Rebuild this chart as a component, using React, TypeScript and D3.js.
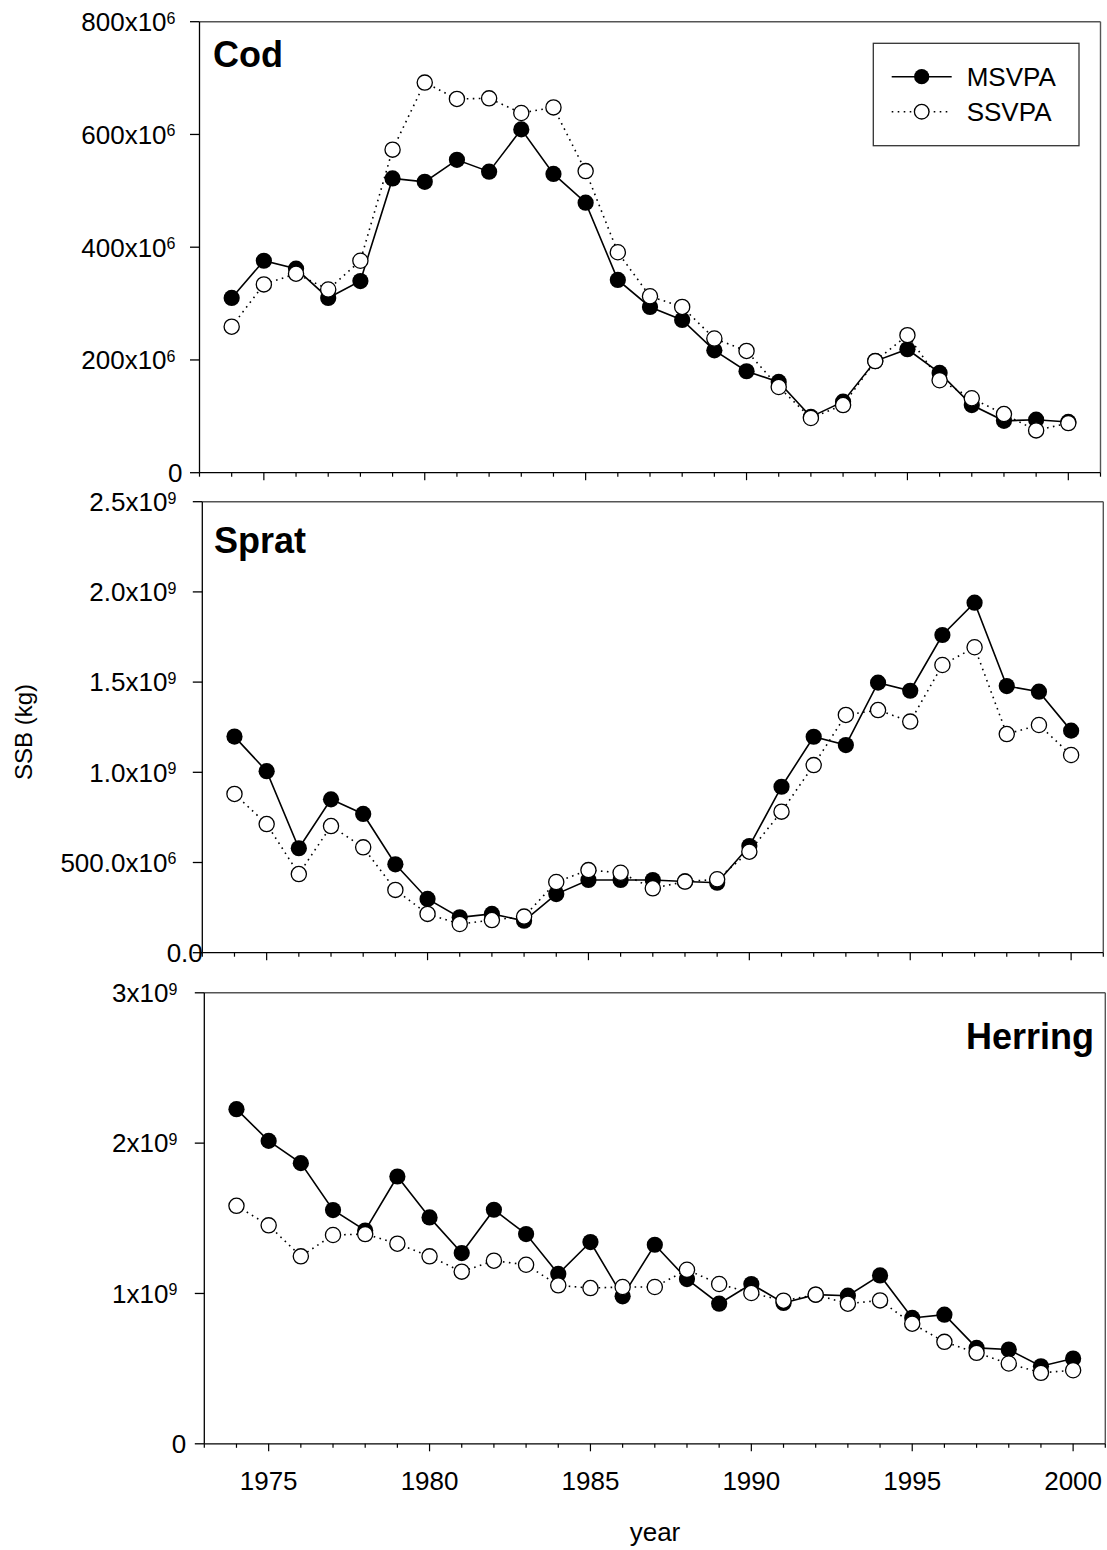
import React from "react";
import * as d3 from "d3";

// ---------- data ----------
const years = [
  1974, 1975, 1976, 1977, 1978, 1979, 1980, 1981, 1982, 1983, 1984, 1985, 1986,
  1987, 1988, 1989, 1990, 1991, 1992, 1993, 1994, 1995, 1996, 1997, 1998, 1999, 2000,
];

// Cod SSB (kg)
const codMSVPA = [
  310e6, 376e6, 362e6, 310e6, 340e6, 522e6, 516e6, 555e6, 534e6, 609e6, 530e6, 479e6, 342e6,
  294e6, 271e6, 217e6, 180e6, 161e6, 99e6, 126e6, 198e6, 219e6, 177e6, 120e6, 92e6, 94e6, 90e6,
];
const codSSVPA = [
  259e6, 334e6, 353e6, 325e6, 376e6, 573e6, 692e6, 663e6, 664e6, 638e6, 648e6, 535e6, 391e6,
  313e6, 294e6, 238e6, 216e6, 152e6, 97e6, 120e6, 198e6, 244e6, 164e6, 132e6, 104e6, 75e6, 88e6,
];

// Sprat SSB (kg)
const spratMSVPA = [
  1.198e9, 1.006e9, 0.579e9, 0.85e9, 0.769e9, 0.49e9, 0.298e9, 0.196e9, 0.215e9, 0.177e9, 0.325e9,
  0.403e9, 0.403e9, 0.403e9, 0.395e9, 0.388e9, 0.591e9, 0.92e9, 1.197e9, 1.151e9, 1.497e9, 1.452e9,
  1.761e9, 1.94e9, 1.478e9, 1.447e9, 1.231e9,
];
const spratSSVPA = [
  0.88e9, 0.713e9, 0.436e9, 0.702e9, 0.584e9, 0.348e9, 0.215e9, 0.159e9, 0.181e9, 0.2e9, 0.392e9,
  0.458e9, 0.443e9, 0.357e9, 0.394e9, 0.407e9, 0.56e9, 0.782e9, 1.04e9, 1.318e9, 1.345e9, 1.281e9,
  1.595e9, 1.693e9, 1.212e9, 1.262e9, 1.096e9,
];

// Herring SSB (kg)
const herringMSVPA = [
  2.226e9, 2.015e9, 1.867e9, 1.555e9, 1.419e9, 1.778e9, 1.506e9, 1.269e9, 1.557e9, 1.395e9, 1.13e9,
  1.342e9, 0.981e9, 1.324e9, 1.096e9, 0.932e9, 1.063e9, 0.937e9, 0.992e9, 0.985e9, 1.12e9, 0.837e9,
  0.859e9, 0.638e9, 0.627e9, 0.516e9, 0.567e9,
];
const herringSSVPA = [
  1.583e9, 1.453e9, 1.247e9, 1.389e9, 1.395e9, 1.331e9, 1.247e9, 1.145e9, 1.218e9, 1.191e9, 1.054e9,
  1.036e9, 1.043e9, 1.043e9, 1.158e9, 1.063e9, 1.003e9, 0.952e9, 0.992e9, 0.932e9, 0.954e9, 0.799e9,
  0.678e9, 0.605e9, 0.534e9, 0.472e9, 0.489e9,
];

// tick values and labels ([mantissa, exponent])
const codTicks = [0, 200e6, 400e6, 600e6, 800e6];
const codTickLabels = [["0", ""], ["200x10", "6"], ["400x10", "6"], ["600x10", "6"], ["800x10", "6"]];
const spratTicks = [0, 0.5e9, 1.0e9, 1.5e9, 2.0e9, 2.5e9];
const spratTickLabels = [
  ["0.0", ""], ["500.0x10", "6"], ["1.0x10", "9"], ["1.5x10", "9"], ["2.0x10", "9"], ["2.5x10", "9"],
];
const herringTicks = [0, 1e9, 2e9, 3e9];
const herringTickLabels = [["0", ""], ["1x10", "9"], ["2x10", "9"], ["3x10", "9"]];

const xDomain = [1973, 2001];
const xLabelYears = [1975, 1980, 1985, 1990, 1995, 2000];
const seriesNames = ["MSVPA", "SSVPA"];

// ---------- layout ----------
const FONT = "'Liberation Sans', Arial, Helvetica, sans-serif";
const PW = 901;
const PH = 451;

const panels = [
  {
    name: "Cod", ms: codMSVPA, ss: codSSVPA, yMax: 800e6, ticks: codTicks, labels: codTickLabels,
    left: 199.5, top: 21.7, titleX: 213, titleY: 66.5, titleAnchor: "start",
    zeroOff: 17, supOff: 24, legend: true, xLabels: false,
  },
  {
    name: "Sprat", ms: spratMSVPA, ss: spratSSVPA, yMax: 2.5e9, ticks: spratTicks, labels: spratTickLabels,
    left: 202.3, top: 501.7, titleX: 214, titleY: 553.3, titleAnchor: "start",
    zeroOff: -0.5, supOff: 26, legend: false, xLabels: false,
  },
  {
    name: "Herring", ms: herringMSVPA, ss: herringSSVPA, yMax: 3e9, ticks: herringTicks, labels: herringTickLabels,
    left: 204.3, top: 992.8, titleX: 1094, titleY: 1049, titleAnchor: "end",
    zeroOff: 18, supOff: 27, legend: false, xLabels: true,
  },
];

const DOT = "1.6 4.4";

function Panel({ p }: { p: any }) {
  const x = d3.scaleLinear().domain(xDomain).range([p.left, p.left + PW]);
  const y = d3.scaleLinear().domain([0, p.yMax]).range([p.top + PH, p.top]);
  const line = d3
    .line<number>()
    .x((_, i) => x(years[i]))
    .y((d) => y(d));
  const bottom = p.top + PH;
  const right = p.left + PW;
  const allYears = d3.range(xDomain[0], xDomain[1] + 1);

  return (
    <g>
      {/* frame top/right */}
      <line x1={p.left} x2={right} y1={p.top} y2={p.top} stroke="#555" strokeWidth={1.4} />
      <line x1={right} x2={right} y1={p.top} y2={bottom} stroke="#555" strokeWidth={1.4} />
      {/* axes */}
      <line x1={p.left} x2={p.left} y1={p.top} y2={bottom} stroke="#000" strokeWidth={1.3} />
      <line x1={p.left} x2={right} y1={bottom} y2={bottom} stroke="#000" strokeWidth={1.3} />
      {/* y ticks */}
      {p.ticks.map((t: number, i: number) => {
        const [m, e] = p.labels[i];
        const yy = y(t);
        const off = e ? p.supOff : p.zeroOff;
        return (
          <g key={"yt" + i}>
            <line x1={p.left - 9.5} x2={p.left} y1={yy} y2={yy} stroke="#000" strokeWidth={1.3} />
            <text x={p.left - off} y={yy + 9.3} textAnchor="end" fontSize={26} fontFamily={FONT} fill="#000">
              <tspan>{m}</tspan>
              {e ? (
                <tspan fontSize={16} dy={-7.5}>
                  {e}
                </tspan>
              ) : null}
            </text>
          </g>
        );
      })}
      {/* x ticks */}
      {allYears.map((yr) => {
        const major = yr % 5 === 0;
        return (
          <line
            key={"xt" + yr}
            x1={x(yr)}
            x2={x(yr)}
            y1={bottom}
            y2={bottom + (major ? 7.5 : 4)}
            stroke="#000"
            strokeWidth={1.2}
          />
        );
      })}
      {p.xLabels &&
        xLabelYears.map((yr) => (
          <text key={"xl" + yr} x={x(yr)} y={bottom + 45.7} textAnchor="middle" fontSize={26} fontFamily={FONT} fill="#000">
            {yr}
          </text>
        ))}
      {/* MSVPA */}
      <path d={line(p.ms) || ""} fill="none" stroke="#000" strokeWidth={1.6} />
      {p.ms.map((v: number, i: number) => (
        <circle key={"ms" + i} cx={x(years[i])} cy={y(v)} r={8.1} fill="#000" />
      ))}
      {/* SSVPA */}
      <path d={line(p.ss) || ""} fill="none" stroke="#000" strokeWidth={1.6} strokeDasharray={DOT} />
      {p.ss.map((v: number, i: number) => (
        <circle key={"ss" + i} cx={x(years[i])} cy={y(v)} r={7.6} fill="#fff" stroke="#000" strokeWidth={1.3} />
      ))}
      {/* title */}
      <text x={p.titleX} y={p.titleY} textAnchor={p.titleAnchor} fontSize={36} fontWeight="bold" fontFamily={FONT} fill="#000">
        {p.name}
      </text>
    </g>
  );
}

function Legend() {
  const bx = 873.3, by = 43.3, bw = 205.7, bh = 102.4;
  const lx1 = 891.7, lx2 = 951.7, mx = 921.7, tx = 966.7;
  const rows = [76.7, 111.7];
  return (
    <g>
      <rect x={bx} y={by} width={bw} height={bh} fill="#fff" stroke="#333" strokeWidth={1.3} />
      <line x1={lx1} x2={lx2} y1={rows[0]} y2={rows[0]} stroke="#000" strokeWidth={1.6} />
      <circle cx={mx} cy={rows[0]} r={7.6} fill="#000" />
      <text x={tx} y={rows[0] + 9.3} fontSize={26} fontFamily={FONT} fill="#000">
        {seriesNames[0]}
      </text>
      <line x1={lx1} x2={lx2} y1={rows[1]} y2={rows[1]} stroke="#000" strokeWidth={1.6} strokeDasharray={DOT} />
      <circle cx={mx} cy={rows[1]} r={7.3} fill="#fff" stroke="#000" strokeWidth={1.3} />
      <text x={tx} y={rows[1] + 9.3} fontSize={26} fontFamily={FONT} fill="#000">
        {seriesNames[1]}
      </text>
    </g>
  );
}

export default function App() {
  return (
    <svg
      width={1107}
      height={1550}
      viewBox="0 0 1107 1550"
      style={{ position: "absolute", left: 0, top: 0, display: "block", background: "#fff" }}
    >
      <rect x={0} y={0} width={1107} height={1550} fill="#fff" />
      {panels.map((p) => (
        <Panel key={p.name} p={p} />
      ))}
      <Legend />
      <text
        transform="translate(32,732) rotate(-90)"
        textAnchor="middle"
        fontSize={24}
        fontFamily={FONT}
        fill="#000"
      >
        SSB (kg)
      </text>
      <text x={655} y={1541} textAnchor="middle" fontSize={26} fontFamily={FONT} fill="#000">
        year
      </text>
    </svg>
  );
}
